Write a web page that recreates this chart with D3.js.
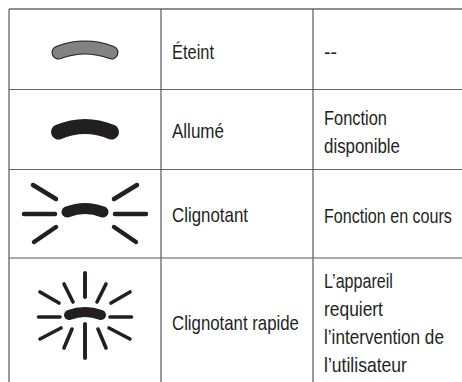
<!DOCTYPE html>
<html>
<head>
<meta charset="utf-8">
<script src="https://cdn.jsdelivr.net/npm/d3@7"></script>
<style>
html, body { margin: 0; padding: 0; background: #fff; }
svg { display: block; }
text { font-family: "Liberation Sans", sans-serif; font-size: 20.5px; fill: #231f20; }
</style>
</head>
<body>
<script>
// table content
var etats = ["Éteint", "Allumé", "Clignotant", "Clignotant rapide"];
var fonctions = [["--"], ["Fonction", "disponible"], ["Fonction en cours"],
    ["L’appareil", "requiert", "l’intervention de", "l’utilisateur"]];
var rowEdges = [9, 89.5, 169.5, 258];
var colEdges = [9, 161, 313];
var lineColors = ["#231f20", "#666668", "#666668", "#58585a"];

var width = 462, height = 382;

var svg = d3.select("body").append("svg")
    .attr("width", width)
    .attr("height", height);

// lines of the table
svg.selectAll(".hline")
    .data(rowEdges)
    .enter().append("line")
    .attr("class", "hline")
    .attr("x1", colEdges[0])
    .attr("x2", width)
    .attr("y1", function (d) { return d; })
    .attr("y2", function (d) { return d; })
    .attr("stroke", function (d, i) { return lineColors[i]; })
    .attr("stroke-width", 1.2);

svg.selectAll(".vline")
    .data(colEdges)
    .enter().append("line")
    .attr("class", "vline")
    .attr("x1", function (d) { return d; })
    .attr("x2", function (d) { return d; })
    .attr("y1", rowEdges[0])
    .attr("y2", height)
    .attr("stroke", "#58585a")
    .attr("stroke-width", 1.2);

// lamp icons: curved band, drawn as a thick line with round ends
var cx = 85;
var lampEndY = [52.5, 132, 212, 315];
var lampCtrlY = [42.5, 121, 205, 309];
var lampHalf = [26.5, 26.5, 18, 16];
var lampThick = [14, 15, 11, 10];

function lampPath(i) {
    return "M" + (cx - lampHalf[i]) + "," + lampEndY[i]
        + "Q" + cx + "," + lampCtrlY[i] + " " + (cx + lampHalf[i]) + "," + lampEndY[i];
}

etats.forEach(function (e, i) {
    svg.append("path")
        .attr("d", lampPath(i))
        .attr("fill", "none")
        .attr("stroke", "#231f20")
        .attr("stroke-width", lampThick[i])
        .attr("stroke-linecap", "round");
});

// grey inside of the lamp that is off
svg.append("path")
    .attr("d", lampPath(0))
    .attr("fill", "none")
    .attr("stroke", "#808285")
    .attr("stroke-width", lampThick[0] - 2.2)
    .attr("stroke-linecap", "round");

// rays of the blinking lamps, relative to the lamp, left side (mirrored for the right)
var raysSlow = [[-61, 0, -30, 0], [-52, -29, -29, -15], [-51, 28, -29, 13]];
var raysFast = [[-46.5, 1, -25, 1], [-45, -24, -26, -13], [-21, -32, -12, -14],
    [-21, 32, -13, 13], [-45, 23, -24, 12], [0, -43, 0, -19], [0, 8, 0, 42]];

function drawRays(rays, cy, w) {
    var all = rays.concat(rays.map(function (r) { return [-r[0], r[1], -r[2], r[3]]; }));
    svg.append("g")
        .attr("transform", "translate(" + cx + "," + cy + ")")
        .selectAll("line")
        .data(all)
        .enter().append("line")
        .attr("x1", function (d) { return d[0]; })
        .attr("y1", function (d) { return d[1]; })
        .attr("x2", function (d) { return d[2]; })
        .attr("y2", function (d) { return d[3]; })
        .attr("stroke", "#231f20")
        .attr("stroke-width", w)
        .attr("stroke-linecap", "round");
}
drawRays(raysSlow, 214, 4.5);
drawRays(raysFast, 316, 3.6);

// texts, squeezed to the condensed widths of the original
var etatY = [59, 138, 222, 330];
var etatW = [42, 52, 76, 127];
var fonctionY = [[58.5], [125, 153], [223], [288, 316, 344, 372]];
var fonctionW = [[13], [63, 76], [128], [69, 59, 120, 83]];

function squeezedText(t, x, y, w) {
    var el = svg.append("text").text(t);
    var sx = w / el.node().getComputedTextLength();
    el.attr("transform", "translate(" + x + "," + y + ") scale(" + sx + ",1)");
}

etats.forEach(function (t, i) {
    squeezedText(t, 172, etatY[i], etatW[i]);
});

fonctions.forEach(function (lines, i) {
    lines.forEach(function (t, j) {
        squeezedText(t, 324, fonctionY[i][j], fonctionW[i][j]);
    });
});
</script>
</body>
</html>
